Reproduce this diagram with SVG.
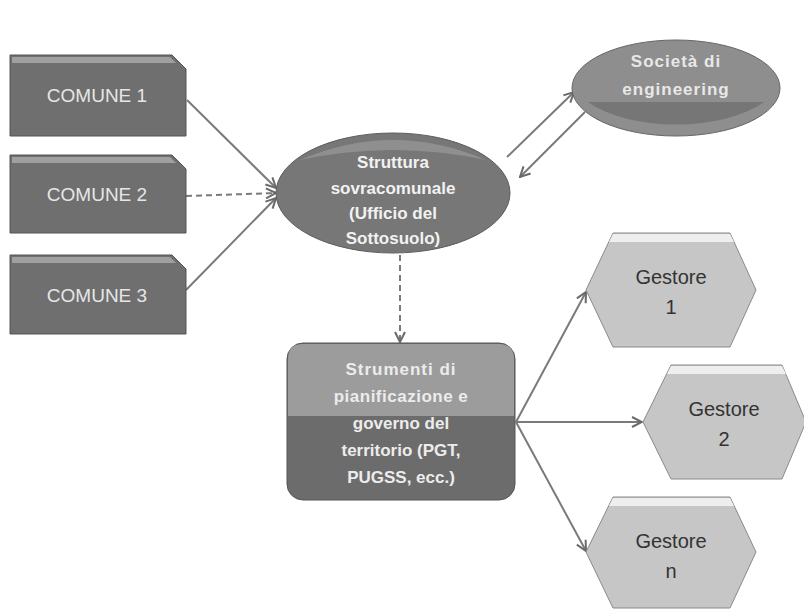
<svg xmlns="http://www.w3.org/2000/svg" width="804" height="610" viewBox="0 0 804 610">
<defs>
<style>
.conn{stroke:#7a7a7a;stroke-width:2;fill:none;marker-end:url(#ah)}
.dash{stroke-dasharray:6 4}
.comune{fill:#6f6f6f;stroke:#555;stroke-width:1}
.ctext{font-family:"Liberation Sans",Arial,sans-serif;font-size:19px;fill:#e6e6e6;text-anchor:middle}
.stext{font-family:"Liberation Sans",Arial,sans-serif;font-size:17px;font-weight:bold;fill:#e8e8e8;text-anchor:middle;letter-spacing:1px}
.wtext{font-family:"Liberation Sans",Arial,sans-serif;font-size:17px;font-weight:bold;fill:#f2f2f2;text-anchor:middle}
.mtext{font-family:"Liberation Sans",Arial,sans-serif;font-size:17px;font-weight:bold;fill:#ececec;text-anchor:middle}
.gtext{font-family:"Liberation Sans",Arial,sans-serif;font-size:20px;fill:#333;text-anchor:middle}
.hex{fill:#c6c6c6;stroke:#8a8a8a;stroke-width:1}
</style>
<marker id="ah" viewBox="0 0 12 12" refX="11" refY="6" markerWidth="12" markerHeight="12" markerUnits="userSpaceOnUse" orient="auto">
<path d="M1,1 L11,6 L1,11" fill="none" stroke="#6a6a6a" stroke-width="2"/>
</marker>
</defs>

<g id="connectors">
<line class="conn" x1="187" y1="100" x2="276" y2="188"/>
<line class="conn dash" x1="186" y1="196" x2="276" y2="193"/>
<line class="conn" x1="186" y1="290" x2="276" y2="198"/>
<line class="conn" x1="507" y1="157" x2="574" y2="92"/>
<line class="conn" x1="585" y1="112" x2="520" y2="177"/>
<line class="conn dash" x1="400" y1="255" x2="400" y2="342"/>
<line class="conn" x1="516" y1="422" x2="586" y2="292"/>
<line class="conn" x1="516" y1="422" x2="642" y2="422"/>
<line class="conn" x1="516" y1="422" x2="586" y2="551"/>
</g>

<g id="comune1">
<path class="comune" d="M10,55 H172 L186,69 V136 H10 Z"/>
<path d="M12,57 H170 L176,63 H12 Z" fill="#a0a0a0"/>
<text class="ctext" x="97" y="102">COMUNE 1</text>
</g>
<g id="comune2">
<path class="comune" d="M10,155 H172 L186,169 V233 H10 Z"/>
<path d="M12,157 H170 L176,163 H12 Z" fill="#a0a0a0"/>
<text class="ctext" x="97" y="201">COMUNE 2</text>
</g>
<g id="comune3">
<path class="comune" d="M10,255 H172 L186,269 V334 H10 Z"/>
<path d="M12,257 H170 L176,263 H12 Z" fill="#a0a0a0"/>
<text class="ctext" x="97" y="302">COMUNE 3</text>
</g>

<g id="struttura">
<ellipse cx="393" cy="193" rx="117" ry="60" fill="#777" stroke="#5c5c5c" stroke-width="1"/>
<path d="M300,160 Q393,120 486,160 Q393,140 300,160 Z" fill="#9a9a9a" opacity="0.7"/>
<text class="wtext" x="393" y="168">Struttura</text>
<text class="wtext" x="393" y="194">sovracomunale</text>
<text class="wtext" x="393" y="219">(Ufficio del</text>
<text class="wtext" x="393" y="244">Sottosuolo)</text>
</g>

<g id="societa">
<ellipse cx="676" cy="88" rx="104" ry="48" fill="#8e8e8e" stroke="#666" stroke-width="1"/>
<path d="M588,102 H764 A104,48 0 0 1 588,102 Z" fill="#767676"/>
<text class="stext" x="676" y="67">Società di</text>
<text class="stext" x="676" y="95">engineering</text>
</g>

<g id="strumenti">
<rect x="287" y="343" width="228" height="157" rx="16" fill="#6c6c6c" stroke="#555" stroke-width="1"/>
<path d="M303,344 H499 Q514,344 514,359 V416 H288 V359 Q288,344 303,344 Z" fill="#9c9c9c"/>
<text class="mtext" x="401" y="375" style="letter-spacing:1px">Strumenti di</text>
<text class="mtext" x="401" y="402" style="letter-spacing:0.5px">pianificazione e</text>
<text class="mtext" x="401" y="429">governo del</text>
<text class="mtext" x="401" y="456">territorio (PGT,</text>
<text class="mtext" x="401" y="483">PUGSS, ecc.)</text>
</g>

<g id="gestore1">
<polygon class="hex" points="586,290 613,233 730,233 756,290 730,347 613,347"/>
<path d="M613,234 H730 L734,242 H609 Z" fill="#eeeeee"/>
<text class="gtext" x="671" y="284">Gestore</text>
<text class="gtext" x="671" y="314">1</text>
</g>
<g id="gestore2">
<polygon class="hex" points="643,422 671,365 782,365 806,422 782,479 671,479"/>
<path d="M671,366 H782 L786,374 H667 Z" fill="#eeeeee"/>
<text class="gtext" x="724" y="416">Gestore</text>
<text class="gtext" x="724" y="446">2</text>
</g>
<g id="gestoren">
<polygon class="hex" points="586,552 613,497 730,497 756,552 730,608 613,608"/>
<path d="M613,498 H730 L734,506 H609 Z" fill="#eeeeee"/>
<text class="gtext" x="671" y="548">Gestore</text>
<text class="gtext" x="671" y="578">n</text>
</g>
</svg>
